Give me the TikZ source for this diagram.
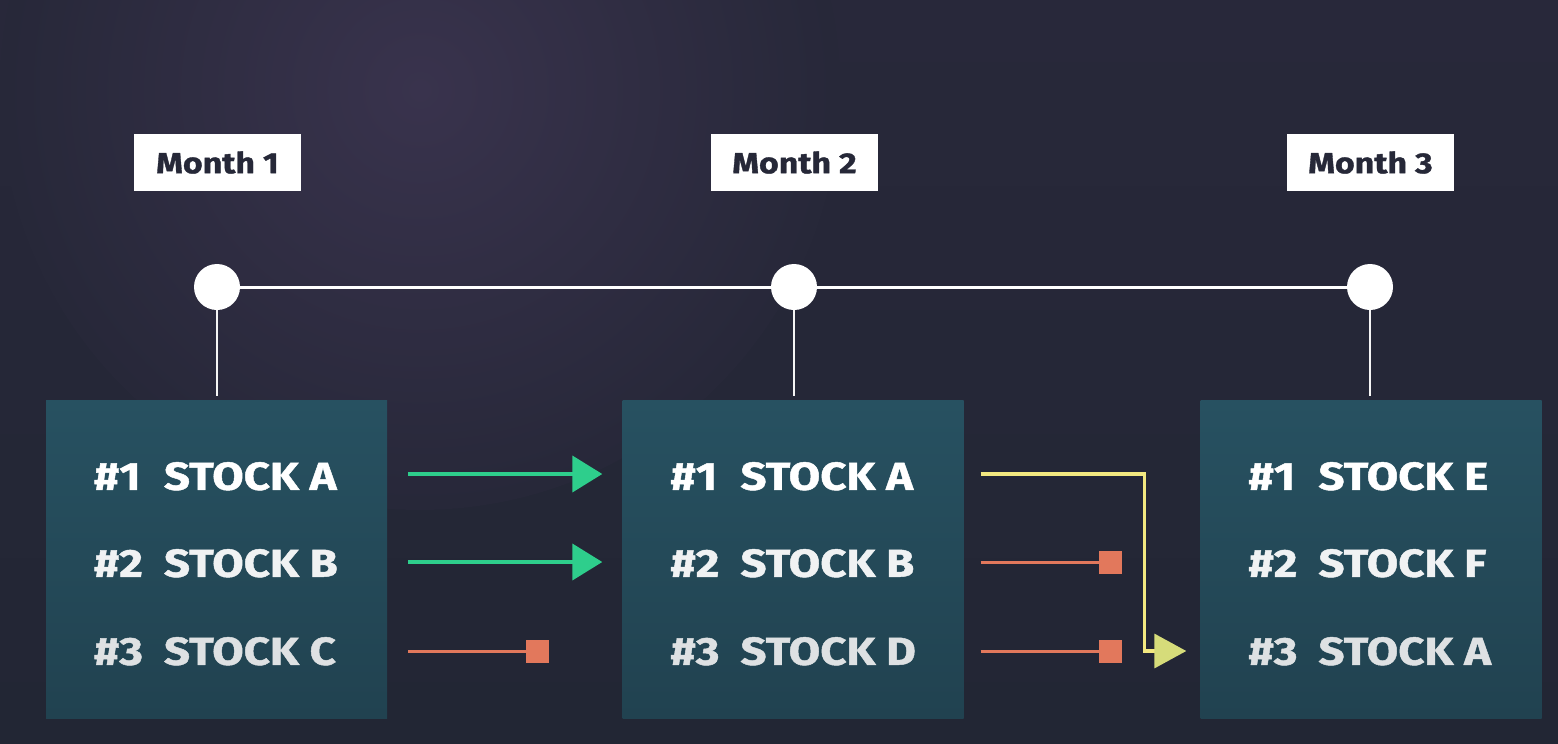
\documentclass[tikz,border=0pt]{standalone}
\usepackage{fontspec}
\setmainfont{Fira Sans}
\newfontfamily\widefont{Fira Sans}[FakeStretch=1.17, FakeBold=1.2]
\usetikzlibrary{arrows.meta}
\definecolor{bgtop}{RGB}{40,40,58}
\definecolor{bgbot}{RGB}{34,38,52}
\definecolor{bg}{RGB}{37,39,55}
\definecolor{glow}{RGB}{57,51,77}
\definecolor{monthtxt}{RGB}{38,40,56}
\definecolor{boxtop}{RGB}{39,81,97}
\definecolor{boxbot}{RGB}{33,66,80}
\definecolor{gline}{RGB}{46,206,140}
\definecolor{rline}{RGB}{226,120,92}
\definecolor{yline}{RGB}{242,232,128}
\definecolor{ytip}{RGB}{214,220,122}
\definecolor{row1}{RGB}{255,255,255}
\definecolor{row2}{RGB}{240,242,243}
\definecolor{row3}{RGB}{222,225,227}
\tikzset{
  monthbox/.style={rectangle, fill=white, minimum width=167pt, minimum height=57pt, inner sep=0pt, text=monthtxt, font=\widefont\bfseries\fontsize{29}{29}\selectfont},
  dot/.style={circle, fill=white, minimum size=46pt, inner sep=0pt},
  stockbox/.style={rectangle, minimum width=341pt, minimum height=318pt, top color=boxtop, bottom color=boxbot, inner sep=0pt},
  rowtxt/.style={anchor=base west, inner sep=0pt, font=\widefont\bfseries\fontsize{39}{39}\selectfont},
  timeline/.style={line width=3pt, white},
  stem/.style={line width=2pt, white!92!gray},
  garrow/.style={line width=4pt, gline, -{Triangle[length=30pt,width=36pt]}},
  rarrow/.style={line width=3pt, rline, -{Square[length=23pt,width=23pt]}},
  yarrow/.style={line width=3.5pt, yline, -{Triangle[length=32pt,width=34pt,color=ytip]}},
}
\begin{document}
\begin{tikzpicture}[x=1pt,y=-1pt]
\shade[top color=bgtop, bottom color=bgbot] (0,0) rectangle (1558,744);
\useasboundingbox (0,0) rectangle (1558,744);
\shade[inner color=glow, outer color=bgtop!80!bgbot] (420,90) circle (420pt);

% month labels
\node[monthbox] (m1) at (217.5,162.5) {Month 1};
\node[monthbox] (m2) at (794.5,162.5) {Month 2};
\node[monthbox] (m3) at (1370.5,162.5) {Month 3};

% timeline dots
\node[dot] (d1) at (217,287) {};
\node[dot] (d2) at (794,287) {};
\node[dot] (d3) at (1370,287) {};
\draw[timeline] (d1) -- (d2) -- (d3);

% boxes
\node[stockbox] (b1) at (216.5,559) {};
\node[stockbox] (b2) at (793,559) {};
\node[stockbox] (b3) at (1371,559) {};

\draw[stem] (d1.south) -- ([yshift=4pt]d1.south |- b1.north);
\draw[stem] (d2.south) -- ([yshift=4pt]d2.south |- b2.north);
\draw[stem] (d3.south) -- ([yshift=4pt]d3.south |- b3.north);

% row texts
\node[rowtxt, text=row1] (n11) at ([shift={(48pt,-90pt)}]b1.north west) {\#1};
\node[rowtxt, text=row1] (s11) at ([shift={(118pt,-90pt)}]b1.north west) {STOCK A};
\node[rowtxt, text=row2] (n12) at ([shift={(48pt,-177pt)}]b1.north west) {\#2};
\node[rowtxt, text=row2] (s12) at ([shift={(118pt,-177pt)}]b1.north west) {STOCK B};
\node[rowtxt, text=row3] (n13) at ([shift={(48pt,-265pt)}]b1.north west) {\#3};
\node[rowtxt, text=row3] (s13) at ([shift={(118pt,-265pt)}]b1.north west) {STOCK C};

\node[rowtxt, text=row1] (n21) at ([shift={(48pt,-90pt)}]b2.north west) {\#1};
\node[rowtxt, text=row1] (s21) at ([shift={(118pt,-90pt)}]b2.north west) {STOCK A};
\node[rowtxt, text=row2] (n22) at ([shift={(48pt,-177pt)}]b2.north west) {\#2};
\node[rowtxt, text=row2] (s22) at ([shift={(118pt,-177pt)}]b2.north west) {STOCK B};
\node[rowtxt, text=row3] (n23) at ([shift={(48pt,-265pt)}]b2.north west) {\#3};
\node[rowtxt, text=row3] (s23) at ([shift={(118pt,-265pt)}]b2.north west) {STOCK D};

\node[rowtxt, text=row1] (n31) at ([shift={(48pt,-90pt)}]b3.north west) {\#1};
\node[rowtxt, text=row1] (s31) at ([shift={(118pt,-90pt)}]b3.north west) {STOCK E};
\node[rowtxt, text=row2] (n32) at ([shift={(48pt,-177pt)}]b3.north west) {\#2};
\node[rowtxt, text=row2] (s32) at ([shift={(118pt,-177pt)}]b3.north west) {STOCK F};
\node[rowtxt, text=row3] (n33) at ([shift={(48pt,-265pt)}]b3.north west) {\#3};
\node[rowtxt, text=row3] (s33) at ([shift={(118pt,-265pt)}]b3.north west) {STOCK A};

% row levels
\coordinate (r1) at (0,474);
\coordinate (r2) at (0,562);
\coordinate (r3) at (0,651);

% connectors month 1 -> month 2
\draw[garrow] ([xshift=21pt]b1.east |- r1) -- ([xshift=-20pt]b2.west |- r1);
\draw[garrow] ([xshift=21pt]b1.east |- r2) -- ([xshift=-20pt]b2.west |- r2);
\draw[rarrow] ([xshift=21pt]b1.east |- r3) -- ([xshift=162pt]b1.east |- r3);

% connectors month 2 -> month 3
\draw[yarrow] ([xshift=17pt]b2.east |- r1) -| ([xshift=181pt]b2.east |- r3) -- ([xshift=-14pt]b3.west |- r3);
\draw[rarrow] ([xshift=17pt]b2.east |- r2) -- ([xshift=158pt]b2.east |- r2);
\draw[rarrow] ([xshift=17pt]b2.east |- r3) -- ([xshift=158pt]b2.east |- r3);
\end{tikzpicture}
\end{document}
